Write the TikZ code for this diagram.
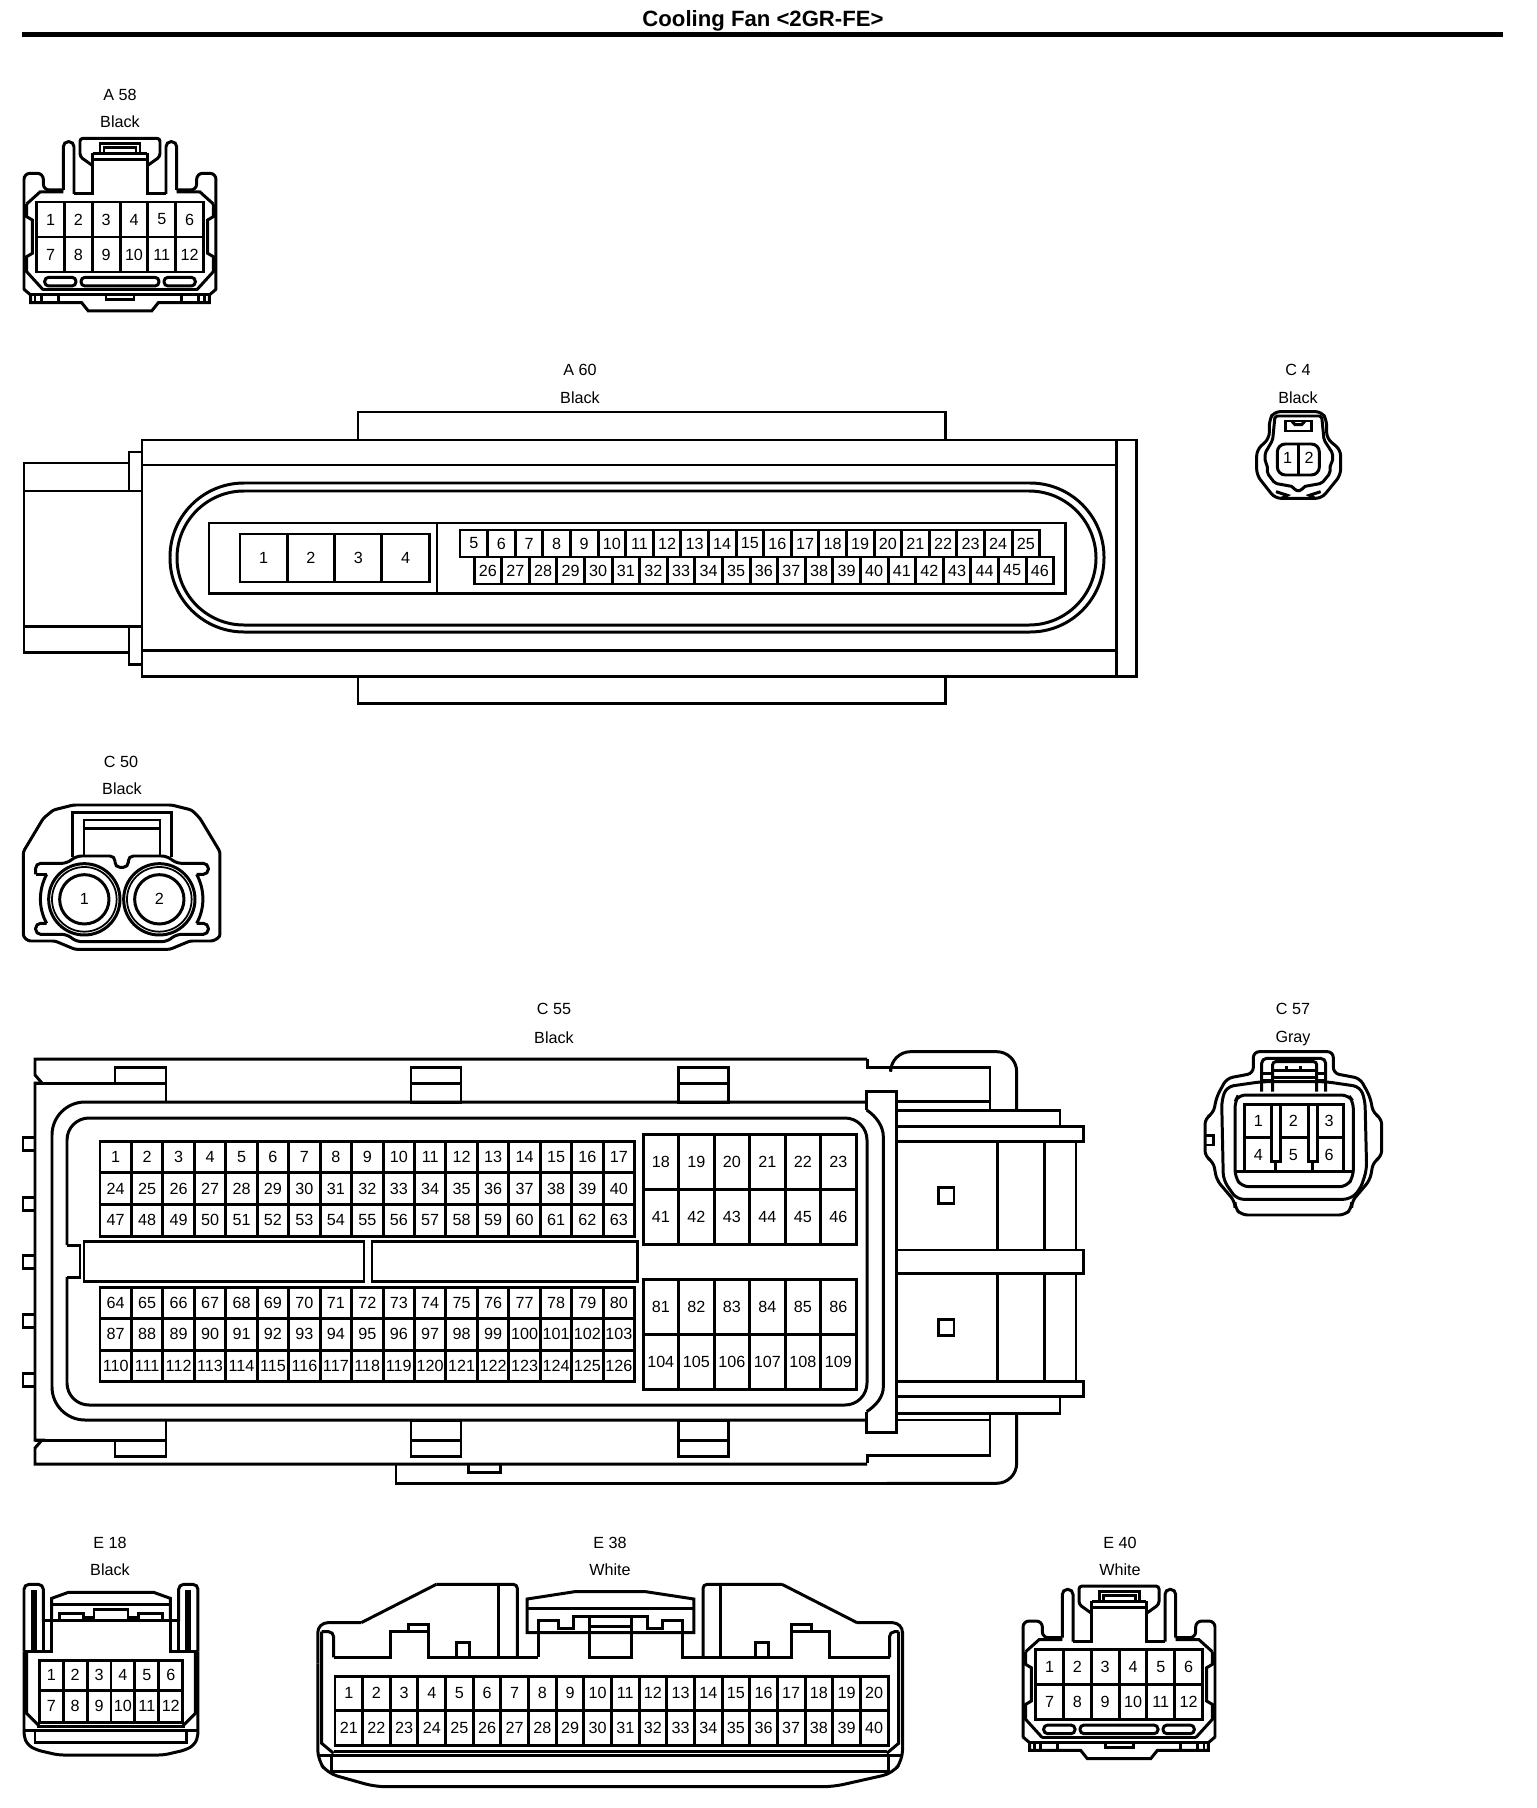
\documentclass[tikz,border=0pt]{standalone}
\usepackage{fontspec}
\setmainfont{Liberation Sans}
\usetikzlibrary{positioning}

\def\px{0.02cm} % one pixel of the sheet
\tikzset{
  sheet/.style={x=0.02cm,y=-0.02cm,line width=1.7pt},
  zoomed/.style={x=0.006667cm,y=-0.006667cm},
  widezoomed/.style={x=0.0079cm,y=-0.006667cm},
  pincell/.style={draw,inner sep=0pt,outer sep=0pt,anchor=north west,font=\fontsize{9.2}{11}\selectfont},
  pinlabel/.style={inner sep=0pt,font=\fontsize{9.2}{11}\selectfont},
  tag/.style={inner sep=0pt,font=\fontsize{9.2}{11}\selectfont},
  heading/.style={inner sep=0pt,font=\fontsize{12.6}{14}\selectfont\bfseries},
}

% one row of pins: prefix, left, top, cell width, cell height, first, last
\newcommand{\pinrow}[7]{%
  \foreach \n [count=\i from 0] in {#6,...,#7} {
    \node[pincell,minimum width=#4*\px,minimum height=#5*\px] (#1-\n) at ({#2+\i*#4},#3) {\n};
  }
}

% the housing shared by A 58 and E 40, drawn around x=360
\newcommand{\tabhousing}{%
  \foreach \m in {1,-1} {
    \begin{scope}[shift={(360,0)},xscale=\m]
      \draw[rounded corners=0.06cm] (0,415) -- (-120,415) -- (-120,470) -- (-85,495);
      \draw (-82,460) -- (0,460);
      \draw (-82,478) -- (0,478);
      \draw (-60,465) -- (-60,432) -- (0,432);
      \draw (-48,465) -- (-48,442) -- (0,442);
      \draw (-82,460) -- (-82,582) -- (-138,582);
      \draw[rounded corners=0.1cm] (-138,582) -- (-138,425) -- (-170,425) -- (-170,570);
      \draw[rounded corners=0.12cm] (-170,570) -- (-230,570) -- (-230,520) -- (-288,520) -- (-288,870);
      \draw (-288,868) -- (-268,885) -- (-268,908) -- (-115,908) -- (-95,933) -- (0,933);
      \draw (-268,885) -- (0,885);
      \draw (-280,612) -- (-240,576) -- (-170,576);
      \draw (-280,612) -- (-280,650) -- (-263,660) -- (-263,760) -- (-280,770) -- (-280,815) -- (-230,870);
      \draw (-230,868) -- (0,868);
      \draw[rounded corners=0.08cm] (-226,832) rectangle (-132,858);
      \draw[rounded corners=0.08cm] (0,832) -- (-117,832) -- (-117,858) -- (0,858);
      \foreach \x in {-255,-235,-185} {
        \draw (\x,885) -- (\x,908);
      }
      \draw (-42,885) -- (-42,898) -- (0,898);
    \end{scope}
  }
}

\begin{document}
\begin{tikzpicture}[sheet]
  \useasboundingbox (0,0) rectangle (1536,1808);

  % Title and rule
  \node[heading] (title) at (763,20.5) {Cooling Fan <2GR-FE>};
  \draw[line width=4.5*\px] (22,34.5) -- (1503,34.5);

  % A 58
  \node[tag] (a58-id) at (120,95) {A 58};
  \node[tag] (a58-color) at (120,122) {Black};
  \begin{scope}[zoomed]
    \tabhousing
  \end{scope}
  \pinrow{a58}{36.7}{202}{27.8}{35}{1}{6}
  \pinrow{a58}{36.7}{237}{27.8}{35}{7}{12}

  % A 60
  \node[tag] (a60-id) at (580,370) {A 60};
  \node[tag] (a60-color) at (580,398) {Black};
  \draw (142,440) rectangle (1136,676);
  \draw (1116,440) -- (1116,676);
  \draw (142,465) -- (1116,465);
  \draw (142,650) -- (1116,650);
  \draw (358,440) -- (358,412) -- (945,412) -- (945,440);
  \draw (358,676) -- (358,703) -- (945,703) -- (945,676);
  \draw (129,463) -- (24,463) -- (24,652) -- (129,652);
  \draw (24,491) -- (142,491);
  \draw (24,626) -- (142,626);
  \draw (142,452) -- (129,452) -- (129,491);
  \draw (142,664) -- (129,664) -- (129,626);
  \draw[rounded corners=1.48cm] (170,483) rectangle (1104,632);
  \draw[rounded corners=1.34cm] (177,491) rectangle (1096,625);
  \draw (209,523) rectangle (1065,593);
  \draw (437,523) -- (437,593);
  \pinrow{a60}{240}{534}{47.3}{48}{1}{4}
  \pinrow{a60}{460}{530}{27.6}{27}{5}{25}
  \pinrow{a60}{474}{557}{27.6}{27}{26}{46}

  % C 4
  \node[tag] (c4-id) at (1298,370) {C 4};
  \node[tag] (c4-color) at (1298,398) {Black};
  \begin{scope}[shift={(1180,340)},zoomed]
    \draw[rounded corners=0.12cm] (355,215) -- (282,215) -- (268,240) -- (268,295) -- (230,330) -- (230,405) -- (285,475) -- (425,475) -- (482,405) -- (482,330) -- (440,295) -- (440,240) -- (425,215) -- cycle;
    \draw[rounded corners=0.04cm] (278,300) -- (285,228) -- (425,228) -- (432,300) -- (458,340) -- (458,365) -- (450,375) -- (450,400) -- (425,430) -- (370,440) -- (365,452) -- (345,452) -- (340,440) -- (285,430) -- (262,400) -- (262,375) -- (255,365) -- (255,340) -- cycle;
    \draw (315,243) -- (395,243) -- (395,273) -- (315,273) -- cycle;
    \draw (335,243) -- (345,254) -- (365,254) -- (375,243);
    \draw[rounded corners=0.16cm] (292,312) rectangle (418,405);
    \draw (355,312) -- (355,405);
    \draw (288,455) -- (322,466) -- (305,475);
    \draw (422,455) -- (388,466) -- (405,475);
    \node[pinlabel] (c4-1) at (323,355) {1};
    \node[pinlabel] (c4-2) at (387,355) {2};
  \end{scope}

  % C 50
  \node[tag] (c50-id) at (121,762) {C 50};
  \node[tag] (c50-color) at (122,789) {Black};
  \begin{scope}[shift={(0,740)},zoomed]
    \draw[rounded corners=0.05cm] (70,590) -- (70,335) -- (130,235) -- (160,210) -- (220,195) -- (515,195) -- (575,210) -- (600,235) -- (660,335) -- (660,590) -- (640,603) -- (570,603) -- (510,628) -- (225,628) -- (165,603) -- (85,603) -- cycle;
    \draw (218,350) -- (218,218) -- (515,218) -- (515,350);
    \draw (252,345) -- (252,240) -- (480,240) -- (480,345);
    \draw (252,265) -- (480,265);
    \draw[rounded corners=0.1cm] (107,403) -- (107,370) -- (200,370) -- (230,348) -- (345,348) -- (345,382) -- (385,382) -- (385,348) -- (500,348) -- (530,370) -- (625,370) -- (625,403) -- (590,403);
    \draw (590,403) .. controls (615,450) and (615,505) .. (590,550);
    \draw[rounded corners=0.1cm] (590,550) -- (625,550) -- (625,583) -- (530,583) -- (500,605) -- (230,605) -- (200,583) -- (107,583) -- (107,550) -- (140,550);
    \draw (140,550) .. controls (115,505) and (115,450) .. (140,403);
    \draw (140,403) -- (107,403);
    \foreach \x/\n in {253/1,478/2} {
      \fill[white] (\x,478) circle [radius=107];
      \draw (\x,478) circle [radius=107];
      \draw[line width=1pt] (\x,478) circle [radius=97];
      \draw (\x,478) circle [radius=74];
      \node[pinlabel] (c50-\n) at (\x,478) {\n};
    }
  \end{scope}

  % C 55
  \node[tag] (c55-id) at (554,1009) {C 55};
  \node[tag] (c55-color) at (554,1038) {Black};
  \draw (867,1059) -- (35,1059) -- (35,1075) -- (42,1083);
  \draw (42,1083) -- (35,1083) -- (35,1440) -- (42,1440) -- (35,1448) -- (35,1464) -- (867,1464);
  \draw (35,1083) -- (166,1083);
  \draw (115,1083) -- (115,1067) -- (166,1067) -- (166,1102);
  \draw (35,1440) -- (166,1440);
  \draw (115,1440) -- (115,1456) -- (166,1456) -- (166,1420);
  \foreach \x in {411,678} {
    \draw (\x,1067) rectangle (\x+50,1102);
    \draw (\x,1083) -- (\x+50,1083);
    \draw (\x,1420) rectangle (\x+50,1456);
    \draw (\x,1440) -- (\x+50,1440);
  }
  \foreach \y in {1137,1197,1255,1314,1373} {
    \draw (35,\y) -- (23,\y) -- (23,\y+13) -- (35,\y+13);
  }
  \draw[rounded corners=0.66cm] (867,1102) -- (52,1102) -- (52,1420) -- (867,1420);
  \draw[rounded corners=0.44cm] (67,1245) -- (67,1118) -- (867,1118) -- (867,1405) -- (67,1405) -- (67,1277);
  \draw (67,1245) -- (80,1245) -- (80,1277) -- (67,1277);
  \draw (84,1241) rectangle (364,1281);
  \draw (372,1241) rectangle (637,1281);
  \draw (396,1464) -- (396,1483) -- (900,1483);
  \draw (468,1464) -- (468,1472) -- (500,1472) -- (500,1464);
  \pinrow{c55}{100}{1141}{31.45}{31.67}{1}{17}
  \pinrow{c55}{100}{1172.67}{31.45}{31.67}{24}{40}
  \pinrow{c55}{100}{1204.33}{31.45}{31.67}{47}{63}
  \pinrow{c55}{100}{1287}{31.45}{31.5}{64}{80}
  \pinrow{c55}{100}{1318.5}{31.45}{31.5}{87}{103}
  \pinrow{c55}{100}{1350}{31.45}{31.5}{110}{126}
  \pinrow{c55}{643}{1134.3}{35.5}{55}{18}{23}
  \pinrow{c55}{643}{1189.3}{35.5}{55}{41}{46}
  \pinrow{c55}{643}{1279}{35.5}{55}{81}{86}
  \pinrow{c55}{643}{1334}{35.5}{55}{104}{109}
  \begin{scope}[shift={(820,1030)},zoomed]
    \draw (140,240) -- (140,185) -- (228,185) -- (228,1207) -- (140,1207) -- (140,1145);
    \draw (140,240) .. controls (170,260) and (190,290) .. (190,320) -- (190,1070) .. controls (190,1100) and (170,1125) .. (140,1145);
    \draw (142,88) -- (142,112) -- (510,112) -- (510,240);
    \draw (142,1300) -- (142,1277) -- (510,1277) -- (510,1150);
    \draw[rounded corners=0.4cm] (212,112) -- (212,65) -- (590,65) -- (590,240);
    \draw[rounded corners=0.4cm] (200,1360) -- (590,1360) -- (590,1150);
    \draw (228,215) -- (510,215);
    \draw (228,1170) -- (510,1170);
    \draw (228,240) -- (720,240) -- (720,290);
    \draw (228,290) -- (790,290) -- (790,335) -- (228,335);
    \draw (228,660) -- (790,660) -- (790,730) -- (228,730);
    \draw (228,1055) -- (790,1055) -- (790,1100) -- (228,1100);
    \draw (720,1100) -- (720,1150) -- (228,1150);
    \foreach \x in {532,673,768} {
      \draw (\x,335) -- (\x,660);
      \draw (\x,730) -- (\x,1055);
    }
    \draw (355,472) rectangle (402,520);
    \draw (355,868) rectangle (402,916);
  \end{scope}

  % C 57
  \node[tag] (c57-id) at (1293,1009) {C 57};
  \node[tag] (c57-color) at (1293,1039) {Gray};
  \begin{scope}[shift={(1180,990)},zoomed]
    \draw[rounded corners=0.12cm] (340,185) -- (220,185) -- (220,250) -- (140,265) -- (110,320) -- (100,370) -- (75,385) -- (75,500) -- (100,515) -- (110,570) -- (165,635) -- (165,655) -- (185,675) -- (495,675) -- (515,655) -- (515,635) -- (570,570) -- (580,515) -- (605,500) -- (605,385) -- (580,370) -- (570,320) -- (540,265) -- (460,250) -- (460,185) -- cycle;
    \draw[rounded corners=0.14cm] (125,330) -- (140,290) -- (245,275) -- (437,275) -- (540,290) -- (555,330) -- (560,540) -- (540,600) -- (510,628) -- (170,628) -- (130,570) -- cycle;
    \draw[rounded corners=0.14cm] (165,335) -- (175,315) -- (505,315) -- (520,335) -- (520,560) -- (500,590) -- (185,590) -- (165,560) -- cycle;
    \draw[rounded corners=0.1cm] (245,305) -- (245,205) -- (437,205) -- (437,305);
    \draw[rounded corners=0.06cm] (278,305) -- (278,215) -- (410,215) -- (410,305);
    \draw (245,250) -- (278,250);
    \draw (245,270) -- (278,270);
    \draw (410,250) -- (437,250);
    \draw (410,270) -- (437,270);
    \draw (278,240) -- (410,240);
    \draw (278,262) -- (410,262);
    \draw (320,228) -- (320,240);
    \draw (360,228) -- (360,240);
    \draw (75,437) -- (100,437) -- (100,465) -- (75,465);
    \draw (193,545) -- (193,343) -- (490,343) -- (490,545);
    \draw (165,545) -- (520,545);
    \draw (273,343) -- (273,515) -- (300,515) -- (300,343);
    \draw (385,343) -- (385,515) -- (413,515) -- (413,343);
    \draw (287,515) -- (287,545);
    \draw (398,515) -- (398,545);
    \draw (193,443) -- (273,443);
    \draw (300,443) -- (385,443);
    \draw (413,443) -- (490,443);
    \foreach \x/\y/\n in {235/393/1,340/393/2,447/393/3,235/495/4,340/495/5,447/495/6} {
      \node[pinlabel] (c57-\n) at (\x,\y) {\n};
    }
  \end{scope}

  % E 18
  \node[tag] (e18-id) at (110,1543) {E 18};
  \node[tag] (e18-color) at (110,1570) {Black};
  \begin{scope}[shift={(0,1530)},zoomed]
    \foreach \m in {1,-1} {
      \begin{scope}[shift={(333,0)},xscale=\m]
        \draw[rounded corners=0.1cm] (-261,365) -- (-261,163) -- (-203,163) -- (-203,275);
        \draw (-236,362) -- (-236,185) -- (-226,185) -- (-226,362);
        \draw (-203,272) -- (0,272);
        \draw (-203,272) -- (-203,365);
        \draw (-178,272) -- (-178,205) -- (-128,187) -- (0,187);
        \draw (-178,222) -- (0,222);
        \draw (-155,272) -- (-155,250) -- (-83,250) -- (-83,272);
        \draw (-51,272) -- (-51,238) -- (0,238);
        \draw (-83,262) -- (-51,262);
        \draw (-178,272) -- (-178,365) -- (-261,365);
        \draw[rounded corners=0.1cm] (-261,365) -- (-261,620) -- (-250,645) -- (-223,660) -- (-158,675) -- (0,675);
        \draw (-253,365) -- (-253,550) -- (-213,590);
        \draw (-223,590) -- (0,590);
        \draw (-261,600) -- (0,600);
        \draw (-228,600) -- (-228,637) -- (0,637);
      \end{scope}
    }
  \end{scope}
  \pinrow{e18}{39.3}{1660}{23.9}{30.5}{1}{6}
  \pinrow{e18}{39.3}{1690.5}{23.9}{31.5}{7}{12}

  % E 38
  \node[tag] (e38-id) at (610,1543) {E 38};
  \node[tag] (e38-color) at (610,1570) {White};
  \begin{scope}[shift={(300,1530)},widezoomed]
    \draw[rounded corners=0.2cm] (45,400) -- (45,278) -- (155,278);
    \draw (155,278) -- (345,163);
    \draw[rounded corners=0.08cm] (345,163) -- (550,163) -- (550,385);
    \draw (503,163) -- (503,382);
    \draw (85,382) -- (228,382) -- (228,305) -- (325,305) -- (325,382) -- (603,382);
    \draw (275,305) -- (275,283) -- (325,283) -- (325,305);
    \draw (395,382) -- (395,338) -- (428,338) -- (428,382);
    \draw[rounded corners=0.1cm] (85,382) -- (85,305) -- (55,305);
    \draw (575,308) -- (575,207) -- (695,185) -- (875,185) -- (997,207) -- (997,308) -- cycle;
    \draw (575,235) -- (997,235);
    \draw (603,382) -- (603,270) -- (655,270) -- (655,295) -- (693,295) -- (693,260) -- (880,260) -- (880,295) -- (918,295) -- (918,270) -- (968,270) -- (968,382) -- (1020,382);
    \draw (733,382) rectangle (838,260);
    \draw (733,288) -- (838,288);
    \draw[rounded corners=0.08cm] (1020,385) -- (1020,163) -- (1220,163);
    \draw (1220,163) -- (1410,278);
    \draw (1063,163) -- (1063,382);
    \draw[rounded corners=0.2cm] (1410,278) -- (1525,278) -- (1525,690) -- (1500,730) -- (1350,770) -- (190,770) -- (70,730) -- (45,690) -- (45,400);
    \draw (1020,382) -- (1243,382) -- (1243,305) -- (1340,305) -- (1340,382) -- (1492,382);
    \draw (1243,305) -- (1243,283) -- (1295,283) -- (1295,305);
    \draw (1153,382) -- (1153,338) -- (1185,338) -- (1185,382);
    \draw[rounded corners=0.1cm] (1492,382) -- (1492,305) -- (1515,305);
    \draw (55,305) -- (55,640) -- (85,670);
    \draw (1515,305) -- (1515,640) -- (1485,670);
    \draw (85,665) -- (1485,665);
    \draw (45,675) -- (1525,675);
    \draw (80,675) -- (80,725) -- (1490,725) -- (1490,675);
  \end{scope}
  \pinrow{e38}{335}{1676}{27.65}{34.5}{1}{20}
  \pinrow{e38}{335}{1710.5}{27.65}{35}{21}{40}

  % E 40
  \node[tag] (e40-id) at (1120,1543) {E 40};
  \node[tag] (e40-color) at (1120,1570) {White};
  \begin{scope}[shift={(999,1447.7)}]
    \begin{scope}[zoomed]
      \tabhousing
    \end{scope}
    \pinrow{e40}{36.7}{202}{27.8}{35}{1}{6}
    \pinrow{e40}{36.7}{237}{27.8}{35}{7}{12}
  \end{scope}
\end{tikzpicture}
\end{document}
